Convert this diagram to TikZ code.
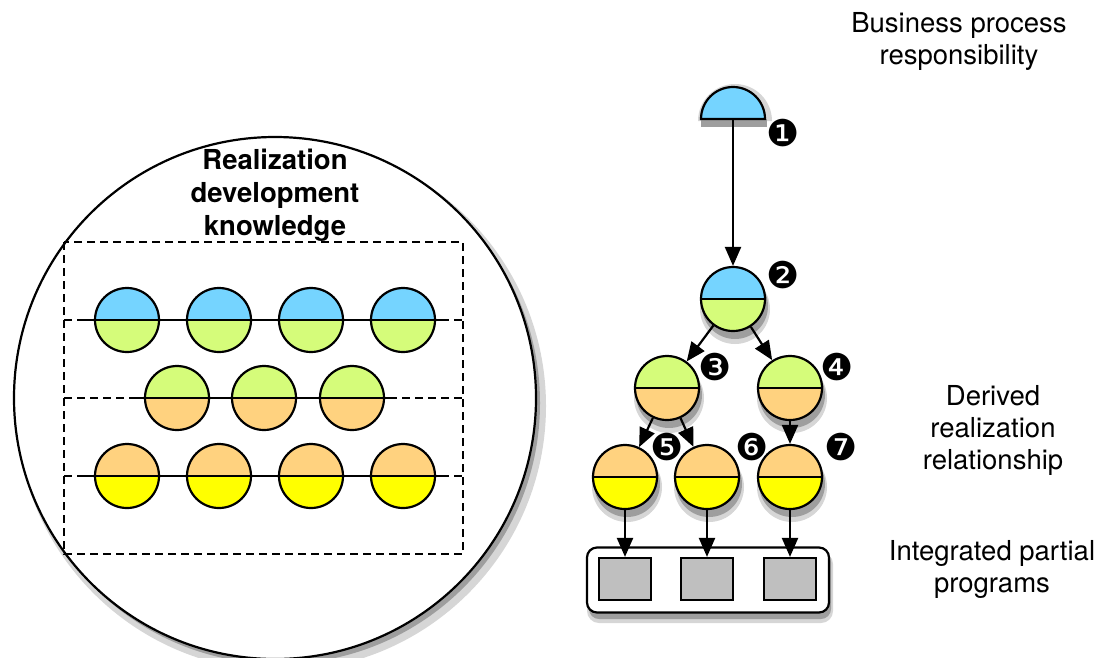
\documentclass[tikz,border=0pt]{standalone}
\usepackage{fontspec}
\setmainfont{TeX Gyre Heros}
\newfontfamily\dingfont{DejaVu Sans}
\usetikzlibrary{arrows.meta}

\definecolor{ballblue}{RGB}{117,212,255}
\definecolor{ballgreen}{RGB}{213,252,122}
\definecolor{ballorange}{RGB}{255,210,127}
\definecolor{ballyellow}{RGB}{255,255,0}
\definecolor{partgray}{RGB}{191,191,191}

\begin{document}
\begin{tikzpicture}[x=1pt, y=-1pt, line width=2.2pt,
    ball/.style 2 args={circle, draw, inner sep=0pt, minimum size=64pt, fill=#2,
      path picture={\fill[#1] (path picture bounding box.west) rectangle (path picture bounding box.north east);
        \draw (path picture bounding box.west) -- (path picture bounding box.east);}}]
    \tikzstyle{halo}=[fill=black!16, draw=none]
    \tikzstyle{umbra}=[fill=black!38, draw=none]
    \tikzstyle{link}=[-{Triangle[length=19pt,width=16pt]}, line width=2.2pt]
    \tikzstyle{frame}=[dash pattern=on 8pt off 5pt, line width=2.2pt]
    \tikzstyle{num}=[font=\dingfont\fontsize{37}{37}\selectfont, inner sep=0pt]
    \tikzstyle{lbl}=[font=\fontsize{27.5}{32}\selectfont, align=center]
    \tikzstyle{part}=[rectangle, draw, fill=partgray, minimum width=52pt, minimum height=42pt, inner sep=0pt]

    \useasboundingbox (0,0) rectangle (1102,657);

    % shadows
    \fill[halo] (281,406) circle (265);
    \fill[umbra] (279,403) circle (261);
    \fill[halo] (735,309) circle (35);
    \fill[umbra] (735,306) circle (33);
    \fill[halo] (669,398) circle (35);
    \fill[umbra] (669,395) circle (33);
    \fill[halo] (792,398) circle (35);
    \fill[umbra] (792,395) circle (33);
    \fill[halo] (627,487) circle (35);
    \fill[umbra] (627,484) circle (33);
    \fill[halo] (709,487) circle (35);
    \fill[umbra] (709,484) circle (33);
    \fill[halo] (792,487) circle (35);
    \fill[umbra] (792,484) circle (33);
    \fill[halo] (698,121) arc[start angle=180, end angle=360, radius=37] -- cycle;
    \fill[umbra] (701,119) rectangle (767,127);
    \fill[halo, rounded corners=12pt] (587,552) rectangle (833,623);
    \fill[umbra, rounded corners=10pt] (589,552) rectangle (831,619);

    % knowledge circle
    \node[circle, draw, fill=white, minimum size=522pt, inner sep=0pt] (realm) at (275,398) {};
    \node[lbl, font=\bfseries\fontsize{27.5}{33}\selectfont] (title) at (275,195) {Realization\\development\\knowledge};
    \draw[frame] (64,242) rectangle (463,554);
    \foreach \y in {320,398,476}
        \draw[frame] (64,\y) -- (463,\y);

    \foreach \x [count=\i] in {127,219,311,403} {
        \node[ball={ballblue}{ballgreen}] (k1\i) at (\x,320) {};
        \node[ball={ballorange}{ballyellow}] (k3\i) at (\x,476) {};
        \draw ([xshift=-12pt] k1\i.west) -- ([xshift=12pt] k1\i.east);
        \draw ([xshift=-12pt] k3\i.west) -- ([xshift=12pt] k3\i.east);
    }
    \foreach \x [count=\i] in {177,264,352} {
        \node[ball={ballgreen}{ballorange}] (k2\i) at (\x,398) {};
        \draw ([xshift=-12pt] k2\i.west) -- ([xshift=12pt] k2\i.east);
    }

    % derivation tree
    \draw[fill=ballblue] (701,119) arc[start angle=180, end angle=360, radius=32] -- cycle;
    \coordinate (b1) at (733,119);
    \node[ball={ballblue}{ballgreen}] (b2) at (733,299) {};
    \node[ball={ballgreen}{ballorange}] (b3) at (667,388) {};
    \node[ball={ballgreen}{ballorange}] (b4) at (790,388) {};
    \node[ball={ballorange}{ballyellow}] (b5) at (625,477) {};
    \node[ball={ballorange}{ballyellow}] (b6) at (707,477) {};
    \node[ball={ballorange}{ballyellow}] (b7) at (790,477) {};

    \node[num] (n1) at (783,133) {❶};
    \node[num] (n2) at (783,275) {❷};
    \node[num] (n3) at (715,367) {❸};
    \node[num] (n4) at (837,367) {❹};
    \node[num] (n5) at (667,447) {❺};
    \node[num] (n6) at (752,447) {❻};
    \node[num] (n7) at (841,447) {❼};

    % integrated programs
    \node[rectangle, draw, fill=white, rounded corners=10pt, minimum width=242pt, minimum height=65pt] (prog) at (708,580) {};
    \node[part] (p1) at (625,579) {};
    \node[part] (p2) at (707,579) {};
    \node[part] (p3) at (790,579) {};

    \draw[link] (b1) -- (b2);
    \draw[link] (b2) -- (b3);
    \draw[link] (b2) -- (b4);
    \draw[link] (b3) -- (b5);
    \draw[link] (b3) -- (b6);
    \draw[link] (b4) -- (b7);
    \draw[link] (b5) -- (p1);
    \draw[link] (b6) -- (p2);
    \draw[link] (b7) -- (p3);

    % captions
    \node[lbl] (cap1) at (959,41) {Business process\\responsibility};
    \node[lbl] (cap2) at (993,430) {Derived\\realization\\relationship};
    \node[lbl] (cap3) at (992,569) {Integrated partial\\programs};
\end{tikzpicture}
\end{document}
